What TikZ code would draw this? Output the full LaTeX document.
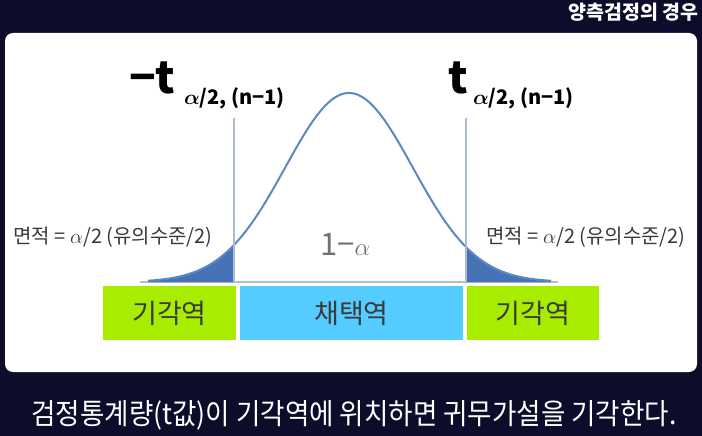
\documentclass[tikz,border=0pt]{standalone}
\usepackage{bm}
\usepackage{fontspec}
\setmainfont{Noto Sans CJK KR}
\definecolor{bgnavy}{HTML}{0D0C2A}
\definecolor{curveblue}{HTML}{5D88C3}
\definecolor{tailblue}{HTML}{4573B5}
\definecolor{vlinecol}{HTML}{A9BBD1}
\definecolor{axiscol}{HTML}{B8BCC4}
\definecolor{limegreen}{HTML}{A8EC00}
\definecolor{skyblue}{HTML}{55CCFF}
\definecolor{boxtext}{HTML}{3A3A3A}
\definecolor{greytext}{HTML}{707070}
\tikzset{
  panel/.style={fill=white, rounded corners=8pt, inner sep=0pt, minimum width=692pt, minimum height=339pt},
  regionbox/.style={inner sep=0pt, minimum height=54pt, text=boxtext, font=\fontsize{27}{30}\selectfont},
  curveline/.style={draw=curveblue, line width=2pt},
  tailfill/.style={fill=tailblue},
  vline/.style={draw=vlinecol, line width=1.5pt},
  axisline/.style={draw=axiscol, line width=1.5pt},
  bigt/.style={inner sep=0pt, anchor=base west, font=\bfseries\fontsize{44}{46}\selectfont},
  subt/.style={inner sep=0pt, anchor=base west, font=\bfseries\fontsize{20}{22}\selectfont},
  arealabel/.style={inner sep=0pt, text=boxtext, font=\fontsize{20}{23}\selectfont},
}
\begin{document}
\begin{tikzpicture}[x=1pt,y=-1pt]
\useasboundingbox (0,0) rectangle (702,436);
\fill[bgnavy] (0,0) rectangle (702,436);
\node[panel] (panel) at (351,202.5) {};
% title
\node[anchor=east, inner sep=0pt, text=white, font=\bfseries\fontsize{19.5}{22}\selectfont] (title) at (699,12) {양측검정의 경우};
% axis
\coordinate (axL) at (140,282);
\coordinate (axR) at (558,282);
\draw[axisline] (axL) -- (axR);
% tails
\fill[tailfill] (148,282) -- plot[domain=148:234, samples=40] ({\x},{282-189*exp(-0.5*((\x-349)/63.7)^2)}) -- (234,282) -- cycle;
\fill[tailfill] (466,282) -- plot[domain=466:551, samples=40] ({\x},{282-189*exp(-0.5*((\x-349)/63.7)^2)}) -- (551,282) -- cycle;
% curve
\draw[curveline] plot[domain=148:551, samples=160, smooth] ({\x},{282-189*exp(-0.5*((\x-349)/63.7)^2)});
% critical lines
\coordinate (cLtop) at (234,118);
\coordinate (cLbot) at (234,282);
\coordinate (cRtop) at (466,118);
\coordinate (cRbot) at (466,282);
\draw[vline] (cLtop) -- (cLbot);
\draw[vline] (cRtop) -- (cRbot);
% critical labels
\node[bigt] (tl) at (129,93) {−t};
\node[subt] (tls) at (184,105) {$\bm{\alpha}$/2, (n−1)};
\node[bigt] (tr) at (448,93) {t};
\node[subt] (trs) at (473,104) {$\bm{\alpha}$/2, (n−1)};
% 1-alpha
\node[inner sep=0pt, anchor=base west, text=greytext, font=\fontsize{31}{34}\selectfont] (conf) at (320,255) {1−$\alpha$};
% area labels
\node[arealabel] (al) at (113,237) {면적 = $\alpha$/2 (유의수준/2)};
\node[arealabel] (ar) at (586,237) {면적 = $\alpha$/2 (유의수준/2)};
% region boxes
\node[regionbox, fill=limegreen, minimum width=133pt] (rejL) at (169.5,313) {기각역};
\node[regionbox, fill=skyblue, minimum width=223pt] (acc) at (351.5,313) {채택역};
\node[regionbox, fill=limegreen, minimum width=132pt] (rejR) at (533,313) {기각역};
% caption
\node[inner sep=0pt, text=white, font=\fontsize{29}{32}\selectfont] (cap) at (354,415) {\scalebox{0.915}[1]{검정통계량(t값)이 기각역에 위치하면 귀무가설을 기각한다.}};
\end{tikzpicture}
\end{document}
